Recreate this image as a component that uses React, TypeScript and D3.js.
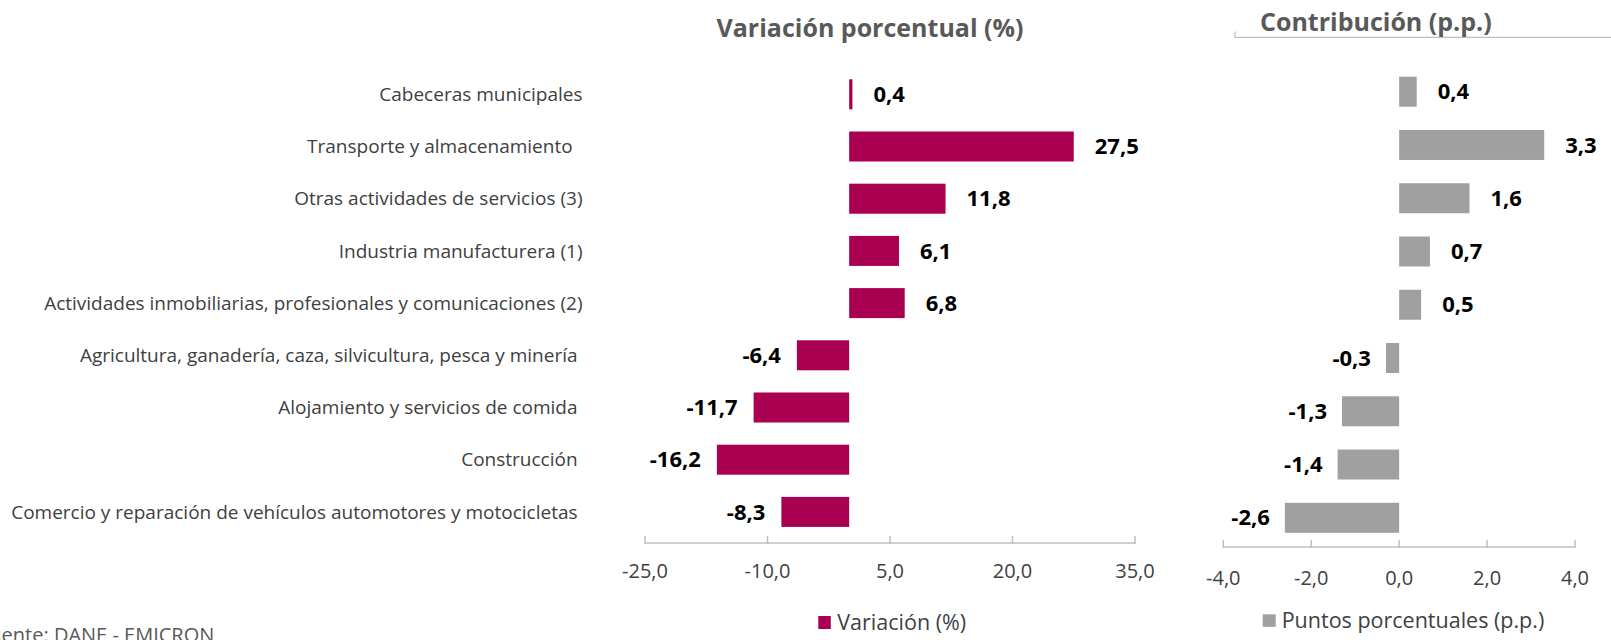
import React, { useEffect, useRef } from "react";
import * as d3 from "d3";

// categorías (de arriba hacia abajo)
const categories = [
  "Cabeceras municipales",
  "Transporte y almacenamiento  ",
  "Otras actividades de servicios (3)",
  "Industria manufacturera (1)",
  "Actividades inmobiliarias, profesionales y comunicaciones (2)",
  "Agricultura, ganadería, caza, silvicultura, pesca y minería ",
  "Alojamiento y servicios de comida ",
  "Construcción ",
  "Comercio y reparación de vehículos automotores y motocicletas ",
];

const variacion = [0.4, 27.5, 11.8, 6.1, 6.8, -6.4, -11.7, -16.2, -8.3];
const contribucion = [0.4, 3.3, 1.6, 0.7, 0.5, -0.3, -1.3, -1.4, -2.6];

const variacionTicks = [-25, -10, 5, 20, 35];
const contribucionTicks = [-4, -2, 0, 2, 4];

const WIDTH = 1611;
const HEIGHT = 640;
const FONT = "'Open Sans', 'Noto Sans', sans-serif";

const esLocale = d3.formatLocale({
  decimal: ",",
  thousands: ".",
  grouping: [3],
  currency: ["$", ""],
  minus: "-",
});
const fmt = esLocale.format(".1f");

const App = () => {
  const svgRef = useRef(null);

  useEffect(() => {
    const svg = d3.select(svgRef.current);
    svg.selectAll("*").remove();

    const rows = categories.map((c, i) => ({
      key: i,
      label: c,
      v: variacion[i],
      p: contribucion[i],
    }));
    const keys = rows.map((d) => d.key);

    // ---------- panel izquierdo: variación ----------
    const x1 = d3.scaleLinear().domain([-25, 35]).range([645, 1135]);
    const y1 = d3
      .scaleBand()
      .domain(keys)
      .range([68.2, 538])
      .paddingInner(0.425)
      .paddingOuter(0.2125);

    svg
      .append("text")
      .attr("x", 870)
      .attr("y", 37)
      .attr("text-anchor", "middle")
      .attr("font-size", 25)
      .attr("font-weight", 700)
      .attr("fill", "#595959")
      .text("Variación porcentual (%)");

    // etiquetas de categoría
    svg
      .append("g")
      .selectAll("text")
      .data(rows)
      .join("text")
      .attr("x", 582.5)
      .attr("y", (d) => y1(d.key) + y1.bandwidth() / 2)
      .attr("dy", "0.35em")
      .attr("text-anchor", "end")
      .attr("font-size", 19)
      .attr("fill", "#404040")
      .style("white-space", "pre")
      .text((d) => d.label);

    svg
      .append("g")
      .selectAll("rect")
      .data(rows)
      .join("rect")
      .attr("x", (d) => x1(Math.min(0, d.v)))
      .attr("y", (d) => y1(d.key))
      .attr("width", (d) => Math.abs(x1(d.v) - x1(0)))
      .attr("height", y1.bandwidth())
      .attr("fill", "#A90052");

    svg
      .append("g")
      .selectAll("text")
      .data(rows)
      .join("text")
      .attr("x", (d) => (d.v >= 0 ? x1(d.v) + 21 : x1(d.v) - 16))
      .attr("y", (d) => y1(d.key) + y1.bandwidth() / 2)
      .attr("dy", "0.35em")
      .attr("text-anchor", (d) => (d.v >= 0 ? "start" : "end"))
      .attr("font-size", 22)
      .attr("font-weight", 700)
      .attr("fill", "#000")
      .text((d) => fmt(d.v));

    // eje
    const ax1 = svg.append("g").attr("stroke", "#BFBFBF").attr("stroke-width", 1.5);
    ax1
      .append("line")
      .attr("x1", x1(-25))
      .attr("x2", x1(35))
      .attr("y1", 543)
      .attr("y2", 543);
    ax1
      .selectAll("line.tick")
      .data(variacionTicks)
      .join("line")
      .attr("class", "tick")
      .attr("x1", (d) => x1(d))
      .attr("x2", (d) => x1(d))
      .attr("y1", 536)
      .attr("y2", 544);
    svg
      .append("g")
      .selectAll("text")
      .data(variacionTicks)
      .join("text")
      .attr("x", (d) => x1(d))
      .attr("y", 571)
      .attr("dy", "0.35em")
      .attr("text-anchor", "middle")
      .attr("font-size", 20)
      .attr("fill", "#404040")
      .text((d) => fmt(d));

    // leyenda
    svg
      .append("rect")
      .attr("x", 818.3)
      .attr("y", 616)
      .attr("width", 12.5)
      .attr("height", 13)
      .attr("fill", "#A90052");
    svg
      .append("text")
      .attr("x", 837.3)
      .attr("y", 622.6)
      .attr("dy", "0.35em")
      .attr("font-size", 21.5)
      .attr("fill", "#404040")
      .text("Variación (%)");

    // ---------- panel derecho: contribución ----------
    const x2 = d3.scaleLinear().domain([-4, 4]).range([1223.3, 1575]);
    const y2 = d3
      .scaleBand()
      .domain(keys)
      .range([65.1, 544.4])
      .paddingInner(0.437)
      .paddingOuter(0.218);

    svg
      .append("path")
      .attr("d", "M1235,31.5V37.3H1611")
      .attr("fill", "none")
      .attr("stroke", "#BFBFBF")
      .attr("stroke-width", 1.2);

    svg
      .append("text")
      .attr("x", 1375.8)
      .attr("y", 30.5)
      .attr("text-anchor", "middle")
      .attr("font-size", 25)
      .attr("font-weight", 700)
      .attr("fill", "#595959")
      .text("Contribución (p.p.)");

    svg
      .append("g")
      .selectAll("rect")
      .data(rows)
      .join("rect")
      .attr("x", (d) => x2(Math.min(0, d.p)))
      .attr("y", (d) => y2(d.key))
      .attr("width", (d) => Math.abs(x2(d.p) - x2(0)))
      .attr("height", y2.bandwidth())
      .attr("fill", "#A0A0A0");

    svg
      .append("g")
      .selectAll("text")
      .data(rows)
      .join("text")
      .attr("x", (d) => (d.p >= 0 ? x2(d.p) + 21 : x2(d.p) - 15))
      .attr("y", (d) => y2(d.key) + y2.bandwidth() / 2)
      .attr("dy", "0.35em")
      .attr("text-anchor", (d) => (d.p >= 0 ? "start" : "end"))
      .attr("font-size", 22)
      .attr("font-weight", 700)
      .attr("fill", "#000")
      .text((d) => fmt(d.p));

    const ax2 = svg.append("g").attr("stroke", "#BFBFBF").attr("stroke-width", 1.5);
    ax2
      .append("line")
      .attr("x1", x2(-4))
      .attr("x2", x2(4))
      .attr("y1", 547)
      .attr("y2", 547);
    ax2
      .selectAll("line.tick")
      .data(contribucionTicks)
      .join("line")
      .attr("class", "tick")
      .attr("x1", (d) => x2(d))
      .attr("x2", (d) => x2(d))
      .attr("y1", 540)
      .attr("y2", 548);
    svg
      .append("g")
      .selectAll("text")
      .data(contribucionTicks)
      .join("text")
      .attr("x", (d) => x2(d))
      .attr("y", 578)
      .attr("dy", "0.35em")
      .attr("text-anchor", "middle")
      .attr("font-size", 20)
      .attr("fill", "#404040")
      .text((d) => fmt(d));

    svg
      .append("rect")
      .attr("x", 1262.7)
      .attr("y", 614.3)
      .attr("width", 13)
      .attr("height", 12.5)
      .attr("fill", "#A0A0A0");
    svg
      .append("text")
      .attr("x", 1281.7)
      .attr("y", 620.5)
      .attr("dy", "0.35em")
      .attr("font-size", 21.5)
      .attr("fill", "#404040")
      .text("Puntos porcentuales (p.p.)");

    // fuente (cortada en el borde, como en la imagen original)
    svg
      .append("text")
      .attr("x", -21)
      .attr("y", 642)
      .attr("font-size", 20)
      .attr("fill", "#595959")
      .text("Fuente: DANE - EMICRON");
  }, []);

  return (
    <svg
      ref={svgRef}
      width={WIDTH}
      height={HEIGHT}
      style={{
        position: "absolute",
        left: 0,
        top: 0,
        background: "#fff",
        fontFamily: FONT,
      }}
    ></svg>
  );
};

export default App;
